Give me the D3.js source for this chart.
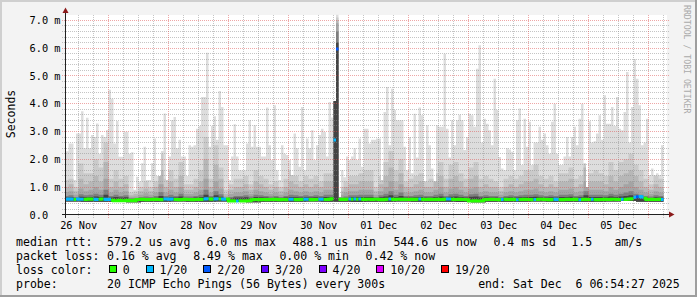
<!DOCTYPE html>
<html>
<head>
<meta charset="utf-8">
<script src="https://cdn.jsdelivr.net/npm/d3@7"></script>
<style>
html, body { margin: 0; padding: 0; background: #f3f3f3; }
svg { display: block; }
text { font-family: "DejaVu Sans Mono", monospace; white-space: pre; }
</style>
</head>
<body>
<svg id="chart" width="697" height="297"></svg>
<script>
// graph end and span
const endTime = new Date(2025, 11, 6, 6, 54, 27);
const spanDays = 10;

// rtt in ms, one value per hour (ping 20 of 20)
const rttMax = [
  2.29,2.57,2.57,1.25,2.93,2.93,3.73,2.4,3.49,2.4, 2.87,2.8,3.29,2.2,2.87,2.8,3.05,4.5,4.18,2.57,
  3.38,2.09,2.09,2.99,2.99,2.2,2.25,0.9,1.37,1.2, 1.86,2.45,1.25,1.25,1.86,2.75,1.4,1.4,2.3,3.65,
  1.25,2.1,3.4,3.52,2.4,2.7,2.1,2.1,1.4,2.5, 2.45,2.5,3.1,3.2,4.24,4.24,5.83,2.45,3.2,3.55,
  2.7,4.46,3.88,2.5,2.5,1.25,2.1,3.26,2.1,1.6,
  1.6,1.6,2.57,3.4,2.45,3.22,2.45,2.45,2.1,2.1, 3.86,2.5,1.97,3.94,1.6,1.25,2.5,2.2,2.15,1.97,
  1.43,2.93,2.4,1.73,3.88,1.6,2.75,2.4,3.04,1.97, 2.5,2.87,3.1,2.98,2.1,4.06,
  3.5,4.1,7.2,0.62,
  1.6,1.35,2.1,1.97,2.1,2.4,1.97,2.75,1.73,3.1,
  3.1,2.57,2.7,2.7,2.75,2.75,1.25,3.7,4.6,2.5, 4.54,3.77,3.4,3.4,3.4,2.45,1.6,2.8,1.5,3.64,
  2.06,3.86,3.58,1.2,3.22,2.5,1.67,1.2,3.22,3.17, 3.17,5.8,3.1,2.06,3.4,2.5,3.4,3.6,3.4,2.33,
  2.8,3.64,3.58,3.17,5.26,6.1,2.6,3.46,3.28,3.04, 2.5,4.9,3.77,2.08,1.67,1.6,2.4,2.35,2.27,1.6,
  3.4,3.83,1.79,3.46,2.45,3.35,1.79,2.6,2.6,3.17, 2.7,2.93,2.5,2.2,3.35,4.0,2.2,1.79,1.79,2.1,
  2.8,2.1,2.8,3.17,2.5,3.46,4.0,1.85,1.0,3.37, 2.6,2.65,2.93,3.58,2.7,4.3,3.28,3.28,3.88,3.2,
  4.24,3.1,3.04,3.7,5.14,2.6,3.88,5.6,4.9,3.94, 2.5,2.6,3.46,1.43,1.67,1.43,1.5,1.43,2.5
];

// inner smoke tops, one value per 2 hours
const rttP19 = [
  1.25,1.3,1.0,1.85,1.5,1.5,2.0,1.7,2.6,1.3, 1.6,1.3,1.4,0.8,0.85,1.0,1.2,1.0,1.2,2.2,
  1.3,1.6,1.3,1.9,1.1,1.1,1.3,1.6,2.8,1.3, 2.5,1.7,0.9,1.1,1.3,1.3,1.4,1.1,1.6,1.4,
  1.3,1.1,1.2,1.0,1.3,1.6,1.4,1.2,1.4,1.3, 1.4,1.2,1.5,1.5,7.1,1.0,1.2,1.4,1.4,1.5,
  1.6,1.6,1.0,1.4,1.9,2.3,1.6,2.0,1.2,1.3, 1.4,1.5,1.2,1.3,1.5,1.9,1.3,1.8,1.9,1.5,
  1.3,1.7,1.9,1.3,1.4,1.3,1.2,1.0,1.3,1.4, 1.3,1.4,1.6,1.6,1.8,1.4,1.3,1.4,1.2,1.5,
  1.5,1.7,1.3,1.4,2.3,1.5,1.6,1.5,1.4,1.9, 1.6,1.9,2.0,2.2,1.8,1.6,1.3,1.1,1.4,1.3
];
const rttP18 = [
  1.0,1.1,0.85,1.3,1.1,1.2,1.4,1.2,1.9,1.0, 1.2,1.0,1.1,0.7,0.75,0.85,0.95,0.85,1.0,1.6,
  1.0,1.2,1.0,1.4,0.9,0.9,1.0,1.2,2.0,1.0, 1.8,1.3,0.75,0.9,1.0,1.0,1.1,0.9,1.2,1.1,
  1.0,0.9,1.0,0.85,1.0,1.2,1.1,1.0,1.1,1.0, 1.1,1.0,1.2,1.2,7.0,0.85,1.0,1.1,1.1,1.2,
  1.2,1.2,0.85,1.1,1.4,1.7,1.2,1.5,1.0,1.0, 1.1,1.2,1.0,1.0,1.2,1.4,1.0,1.3,1.4,1.2,
  1.0,1.3,1.4,1.0,1.1,1.0,1.0,0.85,1.0,1.1, 1.0,1.1,1.2,1.2,1.3,1.1,1.0,1.1,1.0,1.2,
  1.2,1.3,1.0,1.1,1.7,1.2,1.2,1.2,1.1,1.4, 1.2,1.4,1.5,1.6,1.4,1.2,1.0,0.9,1.1,1.0
];
const rttP17 = [
  0.82,0.85,0.72,0.95,0.85,0.9,1.0,0.9,1.3,0.8, 0.9,0.8,0.85,0.65,0.66,0.72,0.78,0.72,0.8,1.1,
  0.8,0.9,0.8,1.0,0.75,0.75,0.8,0.9,1.3,0.8, 1.2,0.95,0.66,0.75,0.8,0.8,0.85,0.75,0.9,0.85,
  0.8,0.75,0.8,0.72,0.8,0.9,0.85,0.8,0.85,0.8, 0.85,0.8,0.9,0.9,6.9,0.72,0.8,0.85,0.85,0.9,
  0.9,0.9,0.72,0.85,1.0,1.2,0.9,1.1,0.8,0.8, 0.85,0.9,0.8,0.8,0.9,1.0,0.8,0.95,1.0,0.9,
  0.8,0.95,1.0,0.8,0.85,0.8,0.8,0.72,0.8,0.85, 0.8,0.85,0.9,0.9,0.95,0.85,0.8,0.85,0.8,0.9,
  0.9,0.95,0.8,0.85,1.2,0.9,0.9,0.9,0.85,1.0, 0.9,1.0,1.1,1.2,1.0,0.9,0.8,0.75,0.85,0.8
];
const rttP15 = [
  0.68,0.7,0.64,0.74,0.7,0.72,0.76,0.72,0.9,0.68, 0.72,0.68,0.7,0.6,0.6,0.64,0.66,0.64,0.68,0.82,
  0.68,0.72,0.68,0.76,0.66,0.66,0.68,0.72,0.9,0.68, 0.85,0.74,0.6,0.64,0.68,0.68,0.7,0.66,0.72,0.7,
  0.68,0.66,0.68,0.64,0.68,0.72,0.7,0.68,0.7,0.68, 0.7,0.68,0.72,0.72,6.6,0.62,0.66,0.7,0.7,0.72,
  0.72,0.72,0.64,0.7,0.76,0.85,0.72,0.8,0.68,0.68, 0.7,0.72,0.68,0.68,0.72,0.76,0.68,0.74,0.76,0.72,
  0.68,0.74,0.76,0.68,0.7,0.68,0.68,0.64,0.68,0.7, 0.68,0.7,0.72,0.72,0.74,0.7,0.68,0.7,0.68,0.72,
  0.72,0.74,0.68,0.7,0.85,0.72,0.72,0.72,0.7,0.76, 0.72,0.76,0.8,0.85,0.76,0.72,0.68,0.66,0.7,0.68
];
const rttP13 = [
  0.62,0.63,0.6,0.65,0.63,0.64,0.66,0.64,0.72,0.62, 0.64,0.62,0.63,0.57,0.57,0.59,0.6,0.59,0.61,0.68,
  0.62,0.64,0.62,0.66,0.6,0.6,0.62,0.64,0.72,0.62, 0.7,0.65,0.57,0.59,0.62,0.62,0.63,0.6,0.64,0.63,
  0.62,0.6,0.62,0.59,0.62,0.64,0.63,0.62,0.63,0.62, 0.63,0.62,0.64,0.64,6.2,0.58,0.6,0.63,0.63,0.64,
  0.64,0.64,0.59,0.63,0.66,0.7,0.64,0.68,0.62,0.62, 0.63,0.64,0.62,0.62,0.64,0.66,0.62,0.65,0.66,0.64,
  0.62,0.65,0.66,0.62,0.63,0.62,0.62,0.59,0.62,0.63, 0.62,0.63,0.64,0.64,0.65,0.63,0.62,0.63,0.62,0.64,
  0.64,0.65,0.62,0.63,0.7,0.64,0.64,0.64,0.63,0.66, 0.64,0.66,0.68,0.7,0.66,0.64,0.62,0.6,0.63,0.62
];

// smoke bottom (ping 1), one value per 6 hours
const rttMin = [
  0.48,0.47,0.47,0.46,0.45,0.47,0.47,0.48,0.47,0.47, 0.48,0.46,0.45,0.47,0.47,0.47,0.48,0.47,0.47,0.46,
  0.47,0.47,0.48,0.47,0.47,0.47,0.46,0.45,0.47,0.47, 0.47,0.48,0.47,0.47,0.47,0.47,0.48,0.5,0.47,0.47
];

// median rtt, one value per hour
const rttMedian = [
  0.56,0.57,0.56,0.55,0.57,0.56,0.56,0.55,0.56,0.57,0.56,0.56,0.55,0.56,0.57,0.56,0.55,0.56,
  0.52,0.51,0.51,0.52,0.51,0.51,0.52,0.51,0.52,0.51,
  0.55,0.55,0.56,0.55,0.54,0.55,0.55,0.56,0.55,0.55,0.54,
  0.57,0.57,0.56,0.57,
  0.55,0.55,0.54,0.55,0.56,0.55,0.55,0.54,0.55,0.55,0.56,0.55,
  0.57,0.58,0.57,0.56,0.57,0.58,0.57,0.57,0.56,0.57,
  0.5,0.51,0.5,0.5,0.51,0.5,0.5,0.51,0.51,
  0.54,0.55,0.55,0.54,0.55,0.55,0.54,0.55,0.55,0.56,0.55,0.54,0.55,0.55,0.54,
  0.56,0.56,0.55,0.54,0.55,0.55,0.56,0.56,0.55,0.54,0.55,0.55,0.56,0.56,0.55,0.55,0.56,0.58,
  2.69,5.97,
  0.55,0.56,0.55,0.56,0.57,0.56,0.57,0.56,0.57,0.56,0.55,
  0.56,0.56,0.55,0.56,0.56,0.55,0.54,0.55,0.56,0.57,0.56,0.55,0.56,0.56,0.55,0.56,0.55,0.55,0.56,0.55,
  0.56,0.57,0.56,0.55,0.55,0.56,0.55,0.55,0.56,0.55,0.55,0.56,0.57,0.57,0.56,0.55,0.55,0.56,0.55,0.55,0.54,
  0.5,0.5,0.51,0.5,0.5,0.51,
  0.54,0.55,0.55,0.56,0.55,0.55,0.54,0.55,0.56,0.55,0.55,0.56,0.55,0.54,0.55,0.55,0.56,0.55,0.55,0.54,
  0.55,0.55,0.56,0.56,0.55,0.55,0.54,0.55,0.56,0.55,0.55,0.54,0.55,0.56,0.55,0.55,0.56,0.55,0.54,0.55,
  0.56,0.55,0.55,0.56,0.55,0.54,0.55,0.55,0.56,0.55,0.55,0.56,0.56,0.55,0.55,0.56,0.55,0.56,0.57,0.58,
  0.63,0.65,0.66,0.64,0.6,
  0.55,0.55,0.56,0.55,0.55,0.56,0.55
];

// hours with lost pings: [hour index, lost of 20]
const lossHours = [
  [0,1],[1,1],[2,1],[4,1],[5,1],[6,1],[11,1],[12,1],[15,1],[16,1],[17,1],
  [39,1],[40,1],[41,1],[42,1],[55,1],[56,1],[59,1],[60,1],[62,1],[63,1],[68,1],
  [89,1],[90,1],[95,1],[96,1],[101,1],[102,1],[107,1],[108,2],[113,1],[115,1],[117,1],
  [129,1],[141,1],[152,1],[153,1],[174,1],[180,1],[187,1],[195,1],[196,1],[205,1],
  [210,1],[222,1],[227,1],[228,2],[229,1],[230,1],[238,1]
];

const lossLevels = [0, 1, 2, 3, 4, 10, 19];
const lossLabels = ["0", "1/20", "2/20", "3/20", "4/20", "10/20", "19/20"];
const lossColors = ["#26ff00", "#00b8ff", "#0059ff", "#5e00ff", "#7e00ff", "#dd00ff", "#ff0000"];

const yMajorTicks = [0, 1, 2, 3, 4, 5, 6, 7];

const legendRtt = [[0, "median rtt:"], [13.1, "579.2 us avg"], [27.4, "6.0 ms max"], [39.8, "488.1 us min"],
                   [54.3, "544.6 us now"], [68.7, "0.4 ms sd"], [79.9, "1.5"], [86.1, "am/s"]];
const legendLoss = [[0, "packet loss:"], [13.1, "0.16 % avg"], [25.5, "8.49 % max"], [37.9, "0.00 % min"], [50.3, "0.42 % now"]];
const legendProbe = [[0, "probe:"], [13.1, "20 ICMP Echo Pings (56 Bytes) every 300s"], [66.5, "end: Sat Dec  6 06:54:27 2025"]];

const svg = d3.select("#chart");
const W = 697, H = 297;
const plotL = 66, plotR = 666, plotT = 14.8, plotB = 214.8;
const startTime = new Date(+endTime - spanDays * 864e5);
const hour = 3600e3;

const x = d3.scaleTime().domain([startTime, endTime]).range([plotL, plotR]);
const y = d3.scaleLinear().domain([0, 7.2]).range([plotB, plotT]);
const px = v => Math.floor(v) + 0.5;

// frame
svg.append("rect").attr("width", W).attr("height", H).attr("fill", "#f3f3f3");
svg.append("path").attr("d", `M0,0H${W}V2H2V${H}H0Z`).attr("fill", "#cfcfcf");
svg.append("path").attr("d", `M${W},${H}H0V${H-2}H${W-2}V0H${W}Z`).attr("fill", "#9e9e9e");
svg.append("rect").attr("x", plotL).attr("y", 15).attr("width", plotR - plotL + 1).attr("height", 200).attr("fill", "#fff");

// smoke: 2-hour values start on odd hours
const pair = i => (i + 1) >> 1;
const smokeLayers = [
    {top: i => rttMax[i], fill: "#dddddd"},
    {top: i => rttP19[pair(i)], fill: "#cacaca"},
    {top: i => rttP18[pair(i)], fill: "#b7b7b7"},
    {top: i => rttP17[pair(i)], fill: "#a4a4a4"},
    {top: i => rttP15[pair(i)], fill: "#7e7e7e"},
    {top: i => rttP13[pair(i)], fill: "#444444"}
];

const area = d3.area()
    .x(d => x(d.t))
    .y0(d => y(d.lo))
    .y1(d => y(Math.min(d.hi, 7.2)));

const smoke = svg.append("g");
smokeLayers.forEach(layer => {
    const pts = [];
    rttMax.forEach((m, i) => {
        const lo = rttMin[Math.floor(i / 6)];
        const hi = Math.max(lo, Math.min(layer.top(i), m));
        pts.push({t: new Date(+startTime + i * hour), lo, hi});
        pts.push({t: new Date(+startTime + (i + 1) * hour), lo, hi});
    });
    smoke.append("path").attr("d", area(pts)).attr("fill", layer.fill);
});

// grid
const grid = svg.append("g").attr("fill", "none").attr("stroke-dasharray", "1,1");
const minorY = d3.range(1, 36).map(k => k * 0.2).filter(v => Math.abs(v - Math.round(v)) > 1e-6);
grid.selectAll(".ymin").data(minorY).enter().append("line")
    .attr("x1", 62).attr("x2", 669)
    .attr("y1", d => px(y(d))).attr("y2", d => px(y(d)))
    .attr("stroke", "rgba(140,140,140,0.5)");
const minorX = d3.timeHour.every(6).range(startTime, endTime).filter(d => d.getHours() != 0);
grid.selectAll(".xmin").data(minorX).enter().append("line")
    .attr("y1", 15).attr("y2", 218)
    .attr("x1", d => px(x(d))).attr("x2", d => px(x(d)))
    .attr("stroke", "rgba(140,140,140,0.5)");
grid.selectAll(".ymaj").data(yMajorTicks.filter(v => v > 0)).enter().append("line")
    .attr("x1", 62).attr("x2", 669)
    .attr("y1", d => px(y(d))).attr("y2", d => px(y(d)))
    .attr("stroke", "rgba(222,80,80,0.5)");
const days = d3.timeDay.range(startTime, endTime);
grid.selectAll(".xmaj").data(days).enter().append("line")
    .attr("y1", 15).attr("y2", 218)
    .attr("x1", d => px(x(d))).attr("x2", d => px(x(d)))
    .attr("stroke", "rgba(222,80,80,0.5)");

// median line coloured by loss
const lossOf = new Map(lossHours);
const lossIndex = n => d3.bisectRight(lossLevels, n) - 1;
const medPts = [];
rttMedian.forEach((v, i) => {
    const k = lossIndex(lossOf.get(i) || 0);
    medPts.push({t: new Date(+startTime + i * hour), v, k});
    medPts.push({t: new Date(+startTime + (i + 1) * hour), v, k});
});
lossColors.forEach((c, k) => {
    const line = d3.line()
        .defined(d => d.k == k)
        .x(d => x(d.t))
        .y(d => y(d.v));
    svg.append("path")
        .attr("d", line(medPts))
        .attr("fill", "none")
        .attr("stroke", c)
        .attr("stroke-width", 3);
});

// axes
svg.append("line").attr("x1", 62).attr("x2", 669).attr("y1", px(plotB)).attr("y2", px(plotB))
    .attr("stroke", "#202020");
svg.append("line").attr("x1", 65.5).attr("x2", 65.5).attr("y1", 12).attr("y2", 218)
    .attr("stroke", "#202020");
svg.append("path").attr("d", "M62.5,13L68.5,13L65.5,7.5Z").attr("fill", "#8b1a1a");
svg.append("path").attr("d", "M669,211.5L669,217.5L674.5,214.5Z").attr("fill", "#8b1a1a");

svg.append("g").selectAll("text").data(yMajorTicks).enter().append("text")
    .attr("x", 60.5)
    .attr("y", d => y(d) + 3.8)
    .attr("text-anchor", "end")
    .attr("font-size", "10.3px")
    .attr("fill", "#000")
    .text(d => d == 0 ? "0.0  " : d.toFixed(1) + " m");

const fmtDay = d3.timeFormat("%d %b");
svg.append("g").selectAll("text").data(days.concat([d3.timeDay.offset(days[0], -1)])
        .map(d => new Date(+d + 12 * hour))
        .filter(d => d > startTime && d < endTime)).enter().append("text")
    .attr("x", d => x(d))
    .attr("y", 228.5)
    .attr("text-anchor", "middle")
    .attr("font-size", "10.3px")
    .attr("fill", "#000")
    .text(d => fmtDay(d));

svg.append("text")
    .attr("transform", "translate(15,114) rotate(-90)")
    .attr("text-anchor", "middle")
    .attr("font-size", "11.5px")
    .attr("fill", "#000")
    .text("Seconds");

svg.append("text")
    .attr("transform", "translate(684,5) rotate(90)")
    .attr("font-size", "8.2px")
    .attr("fill", "#aaaaaa")
    .text("RRDTOOL / TOBI OETIKER");

// legend
const lx = 16, cw = 6.95, fs = "11.55px";
function legendLine(items, base) {
    svg.append("g").selectAll("text").data(items).enter().append("text")
        .attr("x", d => lx + d[0] * cw)
        .attr("y", base)
        .attr("font-size", fs)
        .attr("fill", "#000")
        .text(d => d[1]);
}
legendLine(legendRtt, 245.5);
legendLine(legendLoss, 259.5);
legendLine(legendProbe, 287.5);
legendLine([[0, "loss color:"]], 273.5);

let col = 13.35;
const lossLegend = svg.append("g");
lossLabels.forEach((lab, k) => {
    lossLegend.append("rect")
        .attr("x", Math.round(lx + col * cw) + 0.5)
        .attr("y", 265.5)
        .attr("width", 7).attr("height", 7)
        .attr("fill", lossColors[k])
        .attr("stroke", "#000");
    lossLegend.append("text")
        .attr("x", lx + (col + 2) * cw)
        .attr("y", 273.5)
        .attr("font-size", fs)
        .attr("fill", "#000")
        .text(lab);
    col += 2 + lab.length + 2.3;
});
</script>
</body>
</html>
